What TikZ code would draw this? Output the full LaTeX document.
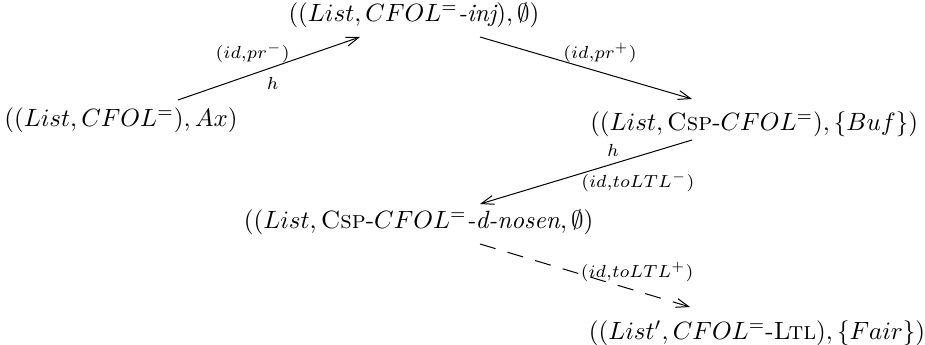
\documentclass[tikz,border=0pt]{standalone}
\usepackage{amsmath}
\usetikzlibrary{arrows.meta}
\begin{document}
\begin{tikzpicture}[x=0.4pt,y=-0.4pt,
		arr/.style={thin,-{Straight Barb[length=5pt,width=3.6pt]}},
		dasharr/.style={arr,dash pattern=on 6.5pt off 5pt},
		lbl/.style={inner sep=0pt,anchor=center}]
		\useasboundingbox (0,0) rectangle (925,345);
		
		% Specifications
		\node (ax) at (121,120) {$((List,CFOL^{=}),Ax)$};
		\node (inj) at (414,15) {$((List,CFOL^{=}\textit{-inj}),\emptyset)$};
		\node[anchor=east] (buf) at (927,124) {$((List,\textsc{Csp}\text{-}CFOL^{=}),\{Buf\})$};
		\node[anchor=west] (nosen) at (235,222) {$((List,\textsc{Csp}\text{-}CFOL^{=}\textit{-d-nosen},\emptyset)$};
		\node (fair) at (757,333) {$((List',CFOL^{=}\text{-}\textsc{Ltl}),\{Fair\})$};
		
		% Refinements
		\draw[arr] ([shift={(57,-20)}]ax.center) -- ([shift={(-54,22)}]inj.center)
			node[lbl,pos=0.41,yshift=8.4pt] {$\scriptstyle(id,pr^{-})$}
			node[lbl,pos=0.52,yshift=-6.4pt] {$\scriptstyle h$};
		\draw[arr] ([shift={(66,22)}]inj.center) -- ([shift={(-235,-25)}]buf.east)
			node[lbl,pos=0.566,yshift=7.6pt] {$\scriptstyle(id,pr^{+})$};
		\draw[arr] ([shift={(-235,16)}]buf.east) -- ([shift={(245,-18)}]nosen.west)
			node[lbl,pos=0.373,yshift=5.2pt] {$\scriptstyle h$}
			node[lbl,pos=0.255,yshift=-10.3pt] {$\scriptstyle(id,toLTL^{-})$};
		\draw[dasharr] ([shift={(245,22)}]nosen.west) -- ([shift={(-67,-26)}]fair.center)
			node[lbl,pos=0.748,yshift=7.6pt] {$\scriptstyle(id,toLTL^{+})$};
	\end{tikzpicture}
\end{document}
